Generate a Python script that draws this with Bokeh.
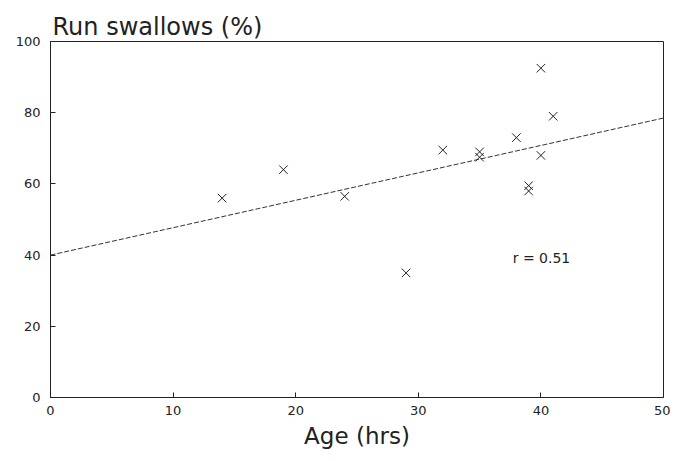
from bokeh.plotting import figure
from bokeh.models import Range1d, FixedTicker, Label
from bokeh.embed import file_html
from bokeh.resources import INLINE

# Data
age_hrs = [14, 19, 24, 29, 32, 35, 35, 38, 40, 41, 39, 39, 40]
run_swallows = [56, 64, 56.5, 35, 69.5, 69, 67.5, 73, 92.5, 79, 59.5, 58, 68]
fit_intercept = 40.0
fit_slope = 0.77
fit_x = [0, 50]
x_ticks = [0, 10, 20, 30, 40, 50]
y_ticks = [0, 20, 40, 60, 80, 100]
r_text = "r = 0.51"
r_pos = (37.7, 39.3)

FONT = "DejaVu Sans"
INK = "#222222"

p = figure(width=670, height=453, output_backend="svg", toolbar_location=None,
           x_range=Range1d(0, 50), y_range=Range1d(0, 100),
           min_border_left=50, min_border_right=7, min_border_top=41,
           min_border_bottom=56,
           title="Run swallows (%)")

p.title.text_font = FONT
p.title.text_font_size = "24px"
p.title.text_font_style = "normal"
p.title.text_color = INK
p.title.align = "left"
p.title.offset = 2
p.title.standoff = 2

p.background_fill_color = "white"
p.border_fill_color = "white"
p.outline_line_color = INK
p.outline_line_width = 1
p.xgrid.grid_line_color = None
p.ygrid.grid_line_color = None

for ax in (p.xaxis[0], p.yaxis[0]):
    ax.axis_line_color = INK
    ax.major_tick_line_color = INK
    ax.major_tick_in = 5
    ax.major_tick_out = 0
    ax.minor_tick_line_color = None
    ax.major_label_text_font = FONT
    ax.major_label_text_font_size = "13px"
    ax.major_label_text_color = INK
p.xaxis.major_label_standoff = 8
p.yaxis.major_label_standoff = 10

p.xaxis.ticker = FixedTicker(ticks=x_ticks)
p.yaxis.ticker = FixedTicker(ticks=y_ticks)
p.xaxis.axis_label = "Age (hrs)"
p.xaxis.axis_label_text_font = FONT
p.xaxis.axis_label_text_font_size = "23px"
p.xaxis.axis_label_text_font_style = "normal"
p.xaxis.axis_label_text_color = INK
p.xaxis.axis_label_standoff = 5

fit_y = [fit_intercept + fit_slope * x for x in fit_x]
p.line(fit_x, fit_y, line_color="#333333", line_width=1, line_dash="5 2")

p.scatter(age_hrs, run_swallows, marker="x", size=12, line_color=INK, line_width=1)

p.add_layout(Label(x=r_pos[0], y=r_pos[1], text=r_text, text_font=FONT,
                   text_font_size="14px", text_color=INK,
                   text_baseline="middle", text_align="left"))

open("out.html", "w").write(file_html(p, INLINE))
